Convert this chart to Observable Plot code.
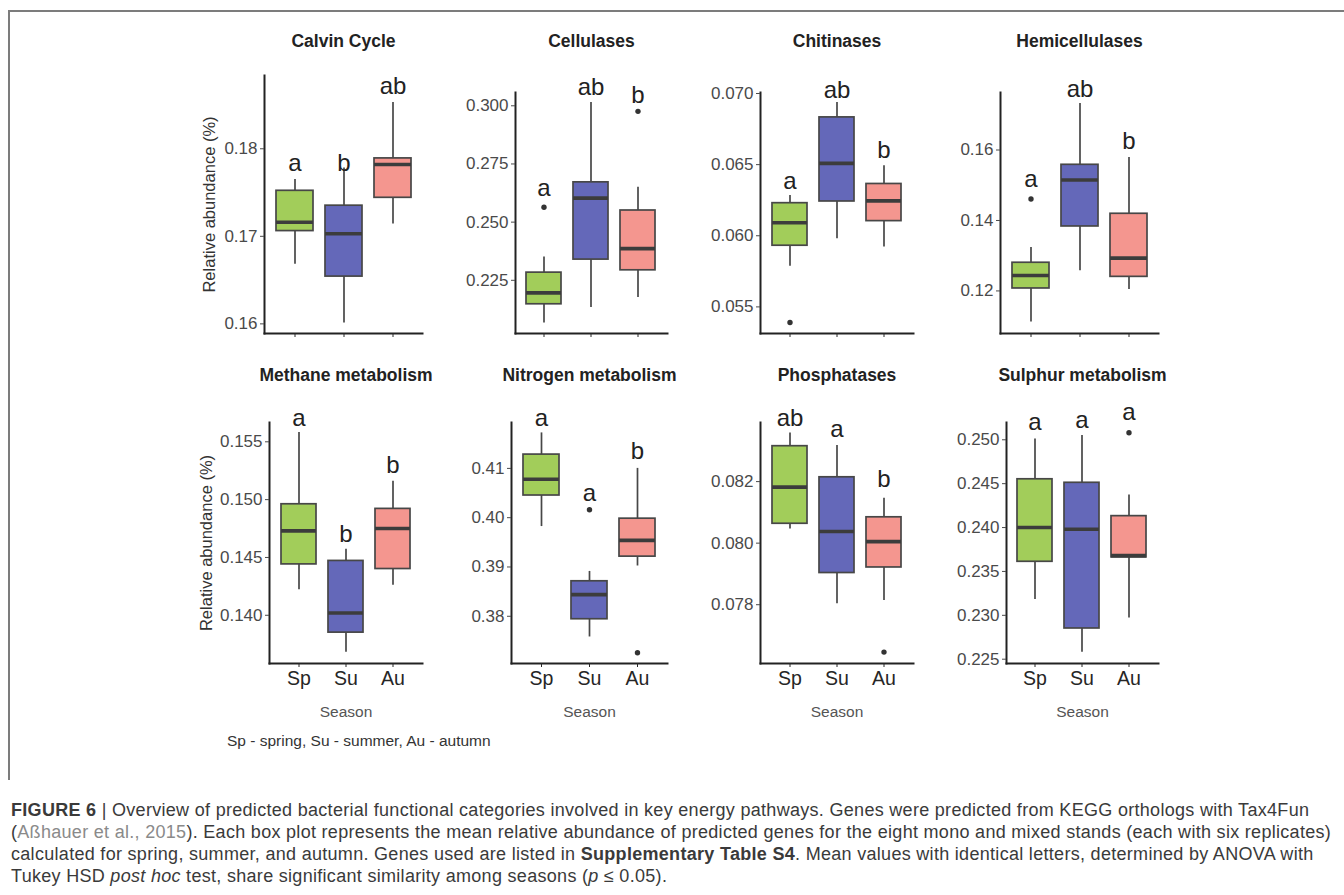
<!DOCTYPE html>
<html><head><meta charset="utf-8">
<script src="https://cdn.jsdelivr.net/npm/d3@7"></script>
<script src="https://cdn.jsdelivr.net/npm/@observablehq/plot@0.6"></script>
<style>
body{margin:0;background:#fff;width:1344px;height:895px;overflow:hidden;position:relative;font-family:"Liberation Sans",Arial,sans-serif;}
.panel{position:absolute;}
#frame{position:absolute;left:8px;top:10px;width:1400px;height:768px;border-left:2px solid #7c7c7c;border-top:2px solid #7c7c7c;}
#legend{position:absolute;left:227px;top:731px;font-size:15.5px;line-height:20px;color:#333;white-space:nowrap;}
#caption{position:absolute;left:11px;top:799px;font-size:18px;letter-spacing:0.3px;line-height:22px;color:#3a3a3a;white-space:nowrap;}
#caption .ref{color:#8a8a8a;}
</style>
</head><body>
<div id="frame"></div>
<div id="panels"></div>
<div id="legend">Sp - spring, Su - summer, Au - autumn</div>
<div id="caption">
<div><b>FIGURE 6</b> | Overview of predicted bacterial functional categories involved in key energy pathways. Genes were predicted from KEGG orthologs with Tax4Fun</div>
<div>(<span class="ref">Aßhauer et al., 2015</span>). Each box plot represents the mean relative abundance of predicted genes for the eight mono and mixed stands (each with six replicates)</div>
<div>calculated for spring, summer, and autumn. Genes used are listed in <b>Supplementary Table S4</b>. Mean values with identical letters, determined by ANOVA with</div>
<div>Tukey HSD <i>post hoc</i> test, share significant similarity among seasons (<i>p</i> ≤ 0.05).</div>
</div>
<script>
// ---------------- data ----------------
const seasons = ["Sp", "Su", "Au"];
const pathways = ["Calvin Cycle", "Cellulases", "Chitinases", "Hemicellulases",
  "Methane metabolism", "Nitrogen metabolism", "Phosphatases", "Sulphur metabolism"];

const whiskerLow = [
  [0.1668, 0.1601, 0.1714],
  [0.2067, 0.2133, 0.2176],
  [0.05785, 0.05979, 0.05921],
  [0.1112, 0.1257, 0.1204],
  [0.1422, 0.1368, 0.1426],
  [0.3982, 0.3758, 0.3902],
  [0.08046, 0.07803, 0.07814],
  [0.2318, 0.2258, 0.2297]
];
const quartile1 = [
  [0.1706, 0.1654, 0.1744],
  [0.2147, 0.2339, 0.2293],
  [0.0593, 0.06241, 0.06103],
  [0.1207, 0.1383, 0.1240],
  [0.1444, 0.1385, 0.1440],
  [0.4045, 0.3794, 0.3921],
  [0.08063, 0.07903, 0.07921],
  [0.2361, 0.2285, 0.2366]
];
const medians = [
  [0.1716, 0.1703, 0.1782],
  [0.2196, 0.2603, 0.2386],
  [0.06091, 0.06509, 0.06245],
  [0.1244, 0.1515, 0.1293],
  [0.1473, 0.1402, 0.1475],
  [0.4078, 0.3844, 0.3954],
  [0.08182, 0.08038, 0.08005],
  [0.2400, 0.2398, 0.2368]
];
const quartile3 = [
  [0.1752, 0.1735, 0.1789],
  [0.2283, 0.2671, 0.2550],
  [0.06229, 0.06832, 0.06364],
  [0.1280, 0.1558, 0.1419],
  [0.1496, 0.1447, 0.1492],
  [0.4128, 0.3871, 0.3998],
  [0.08315, 0.08214, 0.08084],
  [0.2455, 0.2451, 0.2413]
];
const whiskerHigh = [
  [0.1765, 0.1778, 0.1853],
  [0.2350, 0.3014, 0.2650],
  [0.06283, 0.06937, 0.06493],
  [0.1323, 0.1732, 0.1579],
  [0.1558, 0.1457, 0.1516],
  [0.4172, 0.3891, 0.4100],
  [0.08358, 0.08317, 0.08146],
  [0.2501, 0.2505, 0.2437]
];
const outlierPanel  = [1, 1, 2, 3, 5, 5, 6, 7];
const outlierSeason = ["Sp", "Au", "Sp", "Sp", "Su", "Au", "Au", "Au"];
const outlierValue  = [0.2564, 0.2976, 0.0539, 0.1461, 0.4016, 0.3726, 0.07646, 0.2508];

const letters = [
  ["a", "b", "ab"], ["a", "ab", "b"], ["a", "ab", "b"], ["a", "ab", "b"],
  ["a", "b", "b"], ["a", "a", "b"], ["ab", "a", "b"], ["a", "a", "a"]
];
const letterY = [
  [0.1775, 0.1775, 0.1862],
  [0.2614, 0.3047, 0.3011],
  [0.06329, 0.06967, 0.06547],
  [0.1494, 0.1751, 0.1603],
  [0.1564, 0.1463, 0.1523],
  [0.4186, 0.4033, 0.4119],
  [0.08382, 0.08344, 0.08182],
  [0.2511, 0.2514, 0.2522]
];
const yTicks = [
  [0.16, 0.17, 0.18],
  [0.225, 0.25, 0.275, 0.3],
  [0.055, 0.06, 0.065, 0.07],
  [0.12, 0.14, 0.16],
  [0.14, 0.145, 0.15, 0.155],
  [0.38, 0.39, 0.40, 0.41],
  [0.078, 0.08, 0.082],
  [0.225, 0.23, 0.235, 0.24, 0.245, 0.25]
];
const tickDigits = [2, 3, 3, 2, 3, 2, 3, 3];
const yDomains = [
  [0.1589, 0.18837], [0.20214, 0.30571], [0.05313, 0.07007], [0.10792, 0.17632],
  [0.13583, 0.15667], [0.37042, 0.41931], [0.07609, 0.08392], [0.22451, 0.25197]
];

// ---------------- layout & style ----------------
const seasonColors = ["#a2cd5a", "#6468b9", "#f4968f"];
// [left, top, right, bottom] of each panel's axis box in page pixels
const frames = [
  [264, 75, 422, 333], [515, 92, 667, 333], [760, 92, 913, 333], [1000, 92, 1158, 333],
  [269, 422, 422, 663], [511, 422, 667, 663], [760, 422, 913, 663], [1006, 422, 1158, 663]
];
const titleCenterY = [41, 375];
const rowTop = [20, 352];
const yTitleX = [209, 206];
const font = "'Liberation Sans', Arial, Helvetica, sans-serif";

const container = document.getElementById("panels");

pathways.forEach((name, i) => {
  const [L, T, R, B] = frames[i];
  const row = i < 4 ? 0 : 1;
  const col = i % 4;
  const mL = 85, mR = 14;
  const mT = T - rowTop[row];
  const mB = row ? 72 : 24;
  const width = mL + (R - L) + mR;
  const height = mT + (B - T) + mB;

  const stats = seasons.map((s, j) => ({
    season: s,
    lo: whiskerLow[i][j], q1: quartile1[i][j], med: medians[i][j],
    q3: quartile3[i][j], hi: whiskerHigh[i][j],
    letter: letters[i][j], ly: letterY[i][j]
  }));
  const outs = outlierPanel
    .map((p, k) => ({p, season: outlierSeason[k], value: outlierValue[k]}))
    .filter(o => o.p === i);

  const marks = [
    Plot.ruleX(stats, {x: "season", y1: "lo", y2: "q1", stroke: "#474747", strokeWidth: 1.7}),
    Plot.ruleX(stats, {x: "season", y1: "q3", y2: "hi", stroke: "#474747", strokeWidth: 1.7}),
    Plot.barY(stats, {x: "season", y1: "q1", y2: "q3", fill: "season", stroke: "#474747", strokeWidth: 1.7}),
    Plot.tickY(stats, {x: "season", y: "med", stroke: "#3c3c3c", strokeWidth: 3.6}),
    Plot.dot(outs, {x: "season", y: "value", r: 2.7, fill: "#333", stroke: null}),
    Plot.text(stats, {x: "season", y: "ly", text: "letter", lineAnchor: "bottom", fontSize: 24, fill: "#222"}),
    Plot.frame({anchor: "left", stroke: "#222", strokeWidth: 2}),
    Plot.frame({anchor: "bottom", stroke: "#222", strokeWidth: 2}),
    Plot.axisY({ticks: yTicks[i], tickFormat: d3.format(`.${tickDigits[i]}f`), tickSize: 4, tickPadding: 3,
      fontSize: 17, color: "#4a4a4a", label: null}),
    Plot.axisX({tickSize: 4, tickPadding: 4, fontSize: 19.5, color: "#262626", label: null,
      tickFormat: row ? (d => d) : (() => "")}),
    Plot.text([name], {frameAnchor: "top", dy: titleCenterY[row] - T, lineAnchor: "middle",
      fontSize: 17.5, fontWeight: "bold", fill: "#222"})
  ];
  if (col === 0) {
    marks.push(Plot.text(["Relative abundance (%)"], {frameAnchor: "left", dx: yTitleX[row] - L,
      rotate: -90, textAnchor: "middle", lineAnchor: "middle", fontSize: 16.5, fill: "#333"}));
  }
  if (row === 1) {
    marks.push(Plot.text(["Season"], {frameAnchor: "bottom", dy: 49, lineAnchor: "middle",
      fontSize: 15.5, fill: "#555"}));
  }

  const svg = Plot.plot({
    width, height,
    marginLeft: mL, marginRight: mR, marginTop: mT, marginBottom: mB,
    x: {type: "band", domain: seasons, paddingInner: 0.25, paddingOuter: 0.225, axis: null},
    y: {domain: yDomains[i], axis: null},
    color: {domain: seasons, range: seasonColors},
    style: {background: "transparent", overflow: "visible", fontFamily: font, fontSize: "17px", color: "#333", maxWidth: "none"},
    marks
  });
  const div = document.createElement("div");
  div.className = "panel";
  div.style.left = (L - mL) + "px";
  div.style.top = rowTop[row] + "px";
  div.style.width = width + "px";
  div.appendChild(svg);
  container.appendChild(div);
});
</script>
</body></html>
